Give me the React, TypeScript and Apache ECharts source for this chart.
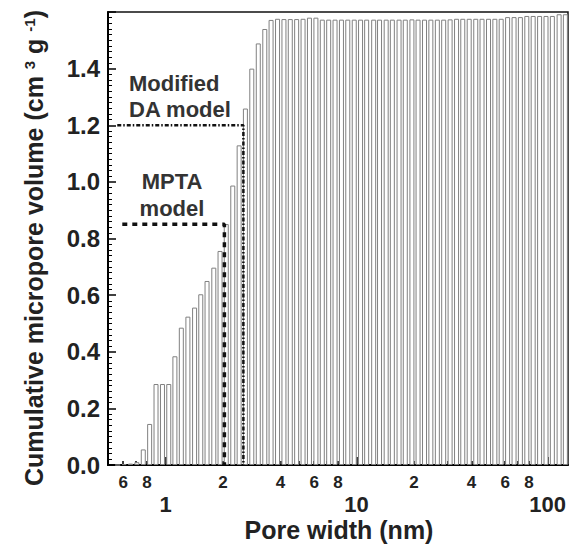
import React, { useEffect, useRef } from 'react';
import * as echarts from 'echarts';

const poreWidths = [
  0.562, 0.607, 0.656, 0.708, 0.765, 0.826, 0.892, 0.964, 1.04, 1.12,
  1.21, 1.31, 1.42, 1.53, 1.65, 1.79, 1.93, 2.08, 2.25, 2.43,
  2.62, 2.83, 3.06, 3.31, 3.57, 3.86, 4.17, 4.5, 4.86, 5.25,
  5.67, 6.13, 6.62, 7.15, 7.72, 8.34, 9.0, 9.73, 10.5, 11.3,
  12.3, 13.2, 14.3, 15.4, 16.7, 18.0, 19.5, 21.0, 22.7, 24.5,
  26.5, 28.6, 30.9, 33.4, 36.0, 38.9, 42.1, 45.4, 49.1, 53.0,
  57.2, 61.8, 66.8, 72.1, 77.9, 84.1, 90.9, 98.2, 106, 115, 124,
];

// Cumulative micropore volume (cm3 g-1)
const cumulativeVolumes = [
  0, 0.003, 0.005, 0.01, 0.055, 0.145, 0.286, 0.286, 0.286, 0.384,
  0.485, 0.524, 0.556, 0.603, 0.65, 0.697, 0.756, 0.851, 0.987, 1.129,
  1.259, 1.4, 1.489, 1.54, 1.572, 1.576, 1.575, 1.575, 1.575, 1.576,
  1.58, 1.58, 1.573, 1.573, 1.573, 1.573, 1.573, 1.573, 1.573, 1.573,
  1.573, 1.573, 1.573, 1.573, 1.573, 1.573, 1.574, 1.573, 1.573, 1.573,
  1.573, 1.573, 1.574, 1.576, 1.576, 1.576, 1.576, 1.576, 1.576, 1.576,
  1.576, 1.582, 1.582, 1.582, 1.586, 1.586, 1.586, 1.586, 1.586, 1.592, 1.592,
];

// Reference lines for the two models: [pore width, volume]
const mptaLine = [[0.594, 0.85], [2.034, 0.85], [2.034, 0]];
const daLine = [[0.559, 1.2], [2.557, 1.2], [2.557, 0]];

// Axis ticks and labels
const minorXLabelValues = [0.6, 0.8, 2, 4, 6, 8, 20, 40, 60, 80];
const minorXLabelTexts = ['6', '8', '2', '4', '6', '8', '2', '4', '6', '8'];
const minorXTickValues = [0.6, 0.7, 0.8, 0.9, 2, 3, 4, 5, 6, 7, 8, 9, 20, 30, 40, 50, 60, 70, 80, 90];
const majorXValues = [1, 10, 100];
const majorXTexts = ['1', '10', '100'];

const FONT = "'Liberation Sans', Arial, Helvetica, sans-serif";

function lookup(values: number[], texts: string[], v: number): string {
  let best = 0;
  let bestD = Infinity;
  values.forEach((x, i) => {
    const d = Math.abs(Math.log(x) - Math.log(v));
    if (d < bestD) { bestD = d; best = i; }
  });
  return bestD < 0.01 ? texts[best] : '';
}

export default function App() {
  const ref = useRef<HTMLDivElement>(null);

  useEffect(() => {
    if (!ref.current) return;
    const chart = echarts.init(ref.current, undefined, { renderer: 'svg' });
    const option: any = {
      animation: false,
      backgroundColor: '#fff',
      grid: {
        left: 108, right: 3, top: 12, bottom: 80,
        show: true, borderColor: '#111', borderWidth: 1.5,
        outerBoundsMode: 'none',
      },
      xAxis: [
        {
          type: 'log', logBase: 10, min: 0.5, max: 128, position: 'bottom',
          axisLine: { show: true, onZero: false, lineStyle: { color: '#000', width: 2 } },
          axisTick: {
            show: true, inside: true, length: 4, customValues: minorXTickValues,
            lineStyle: { color: '#000', width: 1.5 },
          },
          minorTick: { show: false },
          splitLine: { show: false },
          axisLabel: {
            customValues: minorXLabelValues,
            formatter: (v: number) => lookup(minorXLabelValues, minorXLabelTexts, v),
            fontSize: 17, lineHeight: 17, fontWeight: 'bold', fontFamily: FONT, color: '#222', margin: 9,
          },
        },
        {
          type: 'log', logBase: 10, min: 0.5, max: 128, position: 'bottom',
          axisLine: { show: false, onZero: false },
          axisTick: {
            show: true, inside: true, length: 8, customValues: majorXValues,
            lineStyle: { color: '#000', width: 1.5 },
          },
          minorTick: { show: false },
          splitLine: { show: false },
          axisLabel: {
            customValues: majorXValues,
            formatter: (v: number) => lookup(majorXValues, majorXTexts, v),
            fontSize: 22, lineHeight: 21, fontWeight: 'bold', fontFamily: FONT, color: '#222', margin: 29,
          },
        },
      ],
      yAxis: {
        type: 'value', min: 0, max: 1.6, interval: 0.2,
        axisLine: { show: true, onZero: false, lineStyle: { color: '#000', width: 2 } },
        axisTick: { show: true, inside: true, length: 8, lineStyle: { color: '#000', width: 1.5 } },
        minorTick: { show: true, splitNumber: 10, length: 4, lineStyle: { color: '#000', width: 1 } },
        splitLine: { show: false },
        axisLabel: {
          formatter: (v: number) => (v > 1.5 ? '' : v.toFixed(1)),
          fontSize: 24, fontWeight: 'bold', fontFamily: FONT, color: '#222', margin: 8,
        },
      },
      graphic: [
        {
          type: 'text', x: 34, y: 248, rotation: Math.PI / 2,
          style: {
            text: 'Cumulative micropore volume (cm {sup|3} g {sup|-1})',
            fontSize: 25, fontWeight: 'bold', fontFamily: FONT, fill: '#222',
            align: 'center', verticalAlign: 'middle',
            rich: {
              sup: { fontSize: 15, fontWeight: 'bold', fontFamily: FONT, fill: '#222', verticalAlign: 'top' },
            },
          },
        },
        {
          type: 'text', x: 339, y: 530,
          style: {
            text: 'Pore width (nm)', fontSize: 25, lineHeight: 24, fontWeight: 'bold', fontFamily: FONT,
            fill: '#222', align: 'center', verticalAlign: 'middle',
          },
        },
        {
          type: 'text', x: 129, y: 96,
          style: {
            text: 'Modified\nDA model', fontSize: 22, fontWeight: 'bold', fontFamily: FONT,
            fill: '#333', align: 'left', verticalAlign: 'middle', lineHeight: 26,
          },
        },
        {
          type: 'text', x: 172, y: 194.5,
          style: {
            text: 'MPTA\nmodel', fontSize: 22, fontWeight: 'bold', fontFamily: FONT,
            fill: '#333', align: 'center', verticalAlign: 'middle', lineHeight: 27,
          },
        },
      ],
      series: [
        {
          type: 'bar', xAxisIndex: 0, yAxisIndex: 0,
          data: poreWidths.map((w, i) => [w, cumulativeVolumes[i]]),
          barWidth: 5,
          itemStyle: { color: '#fff', borderColor: '#808080', borderWidth: 1 },
          silent: true,
        },
        {
          type: 'line', xAxisIndex: 0, yAxisIndex: 0, data: mptaLine,
          symbol: 'none', silent: true, z: 5,
          lineStyle: { color: '#111', width: 3.5, type: [5, 5] },
        },
        {
          type: 'line', xAxisIndex: 0, yAxisIndex: 0, data: daLine,
          symbol: 'none', silent: true, z: 5,
          lineStyle: { color: '#111', width: 2.5, type: [4, 2, 1.5, 2] },
        },
      ],
    };
    chart.setOption(option);
    return () => chart.dispose();
  }, []);

  return (
    <div
      ref={ref}
      style={{ position: 'fixed', left: 0, top: 0, width: 571, height: 545, background: '#fff' }}
    />
  );
}
